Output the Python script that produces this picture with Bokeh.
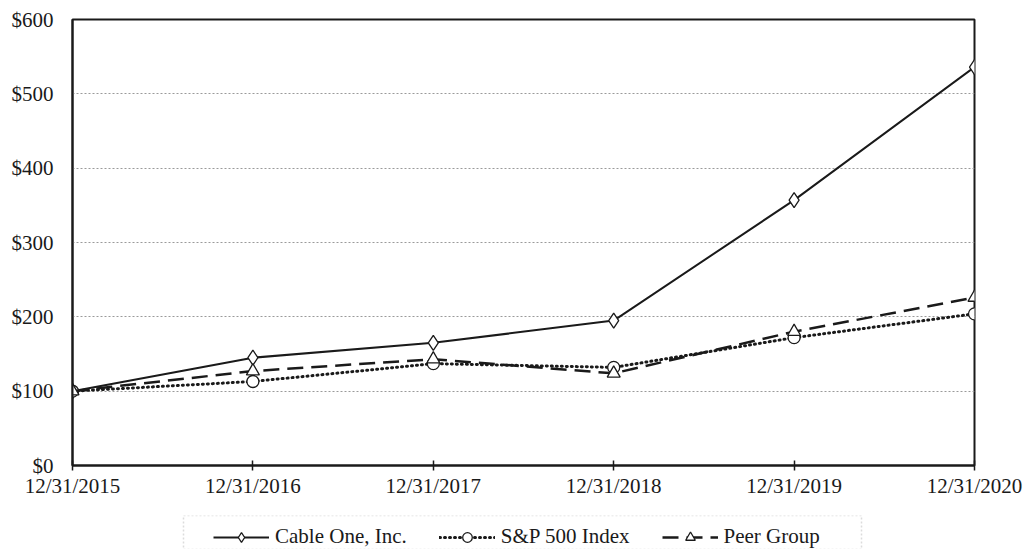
from bokeh.plotting import figure
from bokeh.models import Legend, LegendItem, FixedTicker, ColumnDataSource, Range1d, BoxAnnotation
from bokeh.layouts import column
from bokeh.embed import file_html
from bokeh.resources import INLINE

dates = ["12/31/2015", "12/31/2016", "12/31/2017", "12/31/2018", "12/31/2019", "12/31/2020"]
cable_one = [100, 145, 165, 195, 357, 536]
sp500 = [100, 113, 137, 132, 172, 204]
peer_group = [100, 127, 143, 124, 180, 226]
y_ticks = [0, 100, 200, 300, 400, 500, 600]
series_names = ["Cable One, Inc.", "S&P 500 Index", "Peer Group"]

xs = list(range(len(dates)))
FONT = "Liberation Serif"
INK = "#1a1a1a"
W, LEFT, RIGHT = 1028, 72, 54

p = figure(width=W, height=515, output_backend="svg", toolbar_location=None,
           x_range=Range1d(0, len(dates) - 1), y_range=Range1d(0, 600),
           min_border_left=LEFT, min_border_right=RIGHT, min_border_top=19, min_border_bottom=50)

p.outline_line_color = INK
p.outline_line_width = 2
p.background_fill_color = "white"
p.border_fill_color = "white"

# grid
p.xgrid.visible = False
p.ygrid.ticker = FixedTicker(ticks=[100, 200, 300, 400, 500])
p.ygrid.grid_line_color = "#9a9a9a"
p.ygrid.grid_line_dash = "2 2"
p.ygrid.grid_line_width = 1

# axes
p.xaxis.ticker = FixedTicker(ticks=xs)
p.xaxis.major_label_overrides = {i: d for i, d in enumerate(dates)}
p.yaxis.ticker = FixedTicker(ticks=y_ticks)
p.yaxis.major_label_overrides = {v: "$" + str(v) for v in y_ticks}
for ax in (p.xaxis, p.yaxis):
    ax.axis_line_color = INK
    ax.axis_line_width = 2
    ax.major_label_text_font = FONT
    ax.major_label_text_font_size = "21px"
    ax.major_label_text_color = INK
    ax.minor_tick_line_color = None
p.xaxis.major_tick_in = 5
p.xaxis.major_tick_out = 5
p.xaxis.major_tick_line_color = INK
p.xaxis.major_tick_line_width = 1.5
p.xaxis.major_label_standoff = 3
p.yaxis.major_tick_in = 0
p.yaxis.major_tick_out = 0
p.yaxis.major_label_standoff = 19

src = ColumnDataSource(dict(x=xs, cable=cable_one, sp=sp500, peer=peer_group))

styles = [
    dict(line=dict(line_color=INK, line_width=2),
         marker=dict(marker="diamond", size=15, fill_color="white", line_color=INK, line_width=1.3)),
    dict(line=dict(line_color=INK, line_width=3, line_dash="1 4", line_cap="round"),
         marker=dict(marker="circle", size=12, fill_color="white", line_color=INK, line_width=1.3)),
    dict(line=dict(line_color=INK, line_width=2.5, line_dash="16 8"),
         marker=dict(marker="triangle", size=13, fill_color="white", line_color=INK, line_width=1.3)),
]
cols = ["cable", "sp", "peer"]
for c, st in zip(cols, styles):
    p.line("x", c, source=src, **st["line"])
    p.scatter("x", c, source=src, **st["marker"])

# legend strip: x range in screen pixels of the page, frame aligned with main plot
lf = figure(width=W, height=34, output_backend="svg", toolbar_location=None,
            x_range=Range1d(LEFT, W - RIGHT), y_range=Range1d(0, 1),
            min_border_left=LEFT, min_border_right=RIGHT, min_border_top=0, min_border_bottom=0)
lf.axis.visible = False
lf.grid.visible = False
lf.outline_line_color = None
lf.border_fill_color = "white"
lf.background_fill_color = "white"
lf.add_layout(BoxAnnotation(left=183, right=861, fill_alpha=0,
                            line_color="#8a8a8a", line_dash="2 2", line_width=1.5))
hidden = ColumnDataSource(dict(x=[-1000], y=[-1000]))
items = []
for name, st in zip(series_names, styles):
    r1 = lf.line("x", "y", source=hidden, **st["line"])
    r2 = lf.scatter("x", "y", source=hidden, **st["marker"])
    items.append(LegendItem(label=name, renderers=[r1, r2]))

legend = Legend(items=items, orientation="horizontal", location=(141, 0))
legend.label_text_font = FONT
legend.label_text_font_size = "21px"
legend.label_text_color = INK
legend.glyph_width = 56
legend.glyph_height = 24
legend.label_standoff = 6
legend.spacing = 32
legend.padding = 5
legend.margin = 0
legend.border_line_color = None
legend.background_fill_alpha = 0
lf.add_layout(legend, "center")

layout = column(p, lf, spacing=0)
open("out.html", "w").write(file_html(layout, INLINE))
